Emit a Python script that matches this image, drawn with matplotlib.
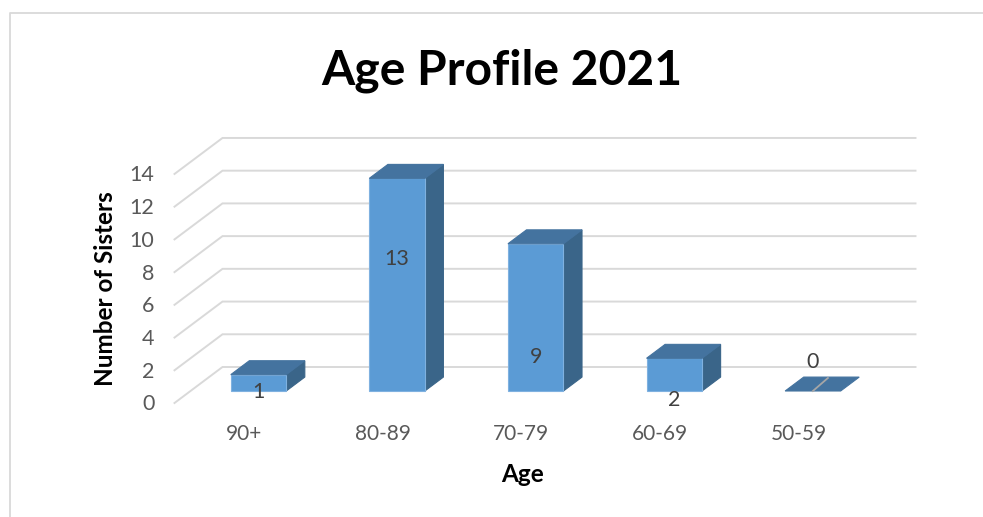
from matplotlib import pyplot as plt
import numpy as np

categories = ["90+", "80-89", "70-79", "60-69", "50-59"]
sisters = [1, 13, 9, 2, 0]
y_ticks = [0, 2, 4, 6, 8, 10, 12, 14]
label_heights = [0.66, 8.83, 2.8, 0.17, 2.5]  # where the labels sit, in axis units

plt.rcParams['font.family'] = ['Lato', 'DejaVu Sans']

W, H = 983, 517
PX_CAT = 138.6  # pixels per category
PX_VAL = 16.36  # pixels per value unit
X0, Y0 = 243, 403  # pixel of category 0 / value 0 on the front floor edge

# floor depth in axis units
DEPTH_X = 48 / PX_CAT
DEPTH_Y = 36 / PX_VAL
BAR_W = 55.5 / PX_CAT
BAR_D0, BAR_D1 = 1 / 3, 0.72

FRONT = "#5B9BD5"
TOP = "#44739F"
SIDE = "#3A6589"
GRID = "#D9D9D9"
TEXT = "#595959"
LABEL = "#404040"


def proj(x, y, d):
    """oblique projection: d=0 front of the floor, d=1 back wall"""
    return x + d * DEPTH_X, y + d * DEPTH_Y


def poly(ax, pts, color, edge=None, z=3):
    xs, ys = zip(*pts)
    ax.fill(xs, ys, facecolor=color, edgecolor=edge or color, lw=0.8, zorder=z)


fig = plt.figure(figsize=(W / 100, H / 100), dpi=100)
ax = fig.add_axes([0, 0, 1, 1])
ax.set_xlim(-(X0 - 0.5) / PX_CAT, (W - X0 + 0.5) / PX_CAT)
ax.set_ylim(-(H - Y0) / PX_VAL, Y0 / PX_VAL)
ax.axis("off")

# outer frame of the chart, cropped on the right and bottom
frame = fig.add_artist(plt.Line2D([9.5 / W, 9.5 / W, 1], [0, 1 - 13 / H, 1 - 13 / H],
                                  color=GRID, lw=1.3))

# grid: diagonal on the floor/side wall, then along the back wall
x_left = (175 - X0) / PX_CAT
x_right = (916 - X0) / PX_CAT
for t in y_ticks:
    bx, by = proj(x_left, t, 1)
    fx, fy = proj(x_left, t, 0)
    ax.plot([fx, bx, x_right], [fy, by, by], color=GRID, lw=1.4, zorder=1,
            solid_joinstyle="miter")
    ax.text(x_left - 20 / PX_CAT, t - 1.5 / PX_VAL, str(t), ha="right", va="center",
            fontsize=15.5, color=TEXT)

for i, v in enumerate(sisters):
    xl, xr = i - BAR_W / 2, i + BAR_W / 2
    a = proj(xl, v, BAR_D0)
    b = proj(xr, v, BAR_D0)
    c = proj(xr, v, BAR_D1)
    d = proj(xl, v, BAR_D1)
    if v > 0:
        e = proj(xr, 0, BAR_D0)
        f = proj(xr, 0, BAR_D1)
        g = proj(xl, 0, BAR_D0)
        poly(ax, [b, c, f, e], SIDE)
        poly(ax, [g, e, b, a], FRONT, edge="#7FB1E0")
    poly(ax, [a, b, c, d], TOP)

    lx, ly = proj(i, 0, BAR_D0)
    ax.text(lx, label_heights[i], str(v), ha="center", va="center", fontsize=15.5,
            color=LABEL, zorder=5)
    ax.text(i + 1.5 / PX_CAT, (403 - 434) / PX_VAL, categories[i], ha="center",
            va="center", fontsize=15, color=TEXT)

    if v == 0:
        # leader line from the flat bar to its label
        ax.plot([lx, lx + 15 / PX_CAT], [12 / PX_VAL, 25 / PX_VAL],
                color="#A6A6A6", lw=1.3, zorder=4)

ax.text((523 - X0) / PX_CAT, (403 - 475) / PX_VAL, "Age", ha="center", va="center",
        fontsize=17.5, fontweight="bold", color="black")
ax.text((106 - X0) / PX_CAT, (403 - 289) / PX_VAL, "Number of Sisters", rotation=90,
        ha="center", va="center", fontsize=17.5, fontweight="bold", color="black")
ax.text((502 - X0) / PX_CAT, (403 - 70.5) / PX_VAL, "Age Profile 2021", ha="center",
        va="center", fontsize=34.6, fontweight="bold", color="black")

fig.savefig("out.png", dpi=100)
